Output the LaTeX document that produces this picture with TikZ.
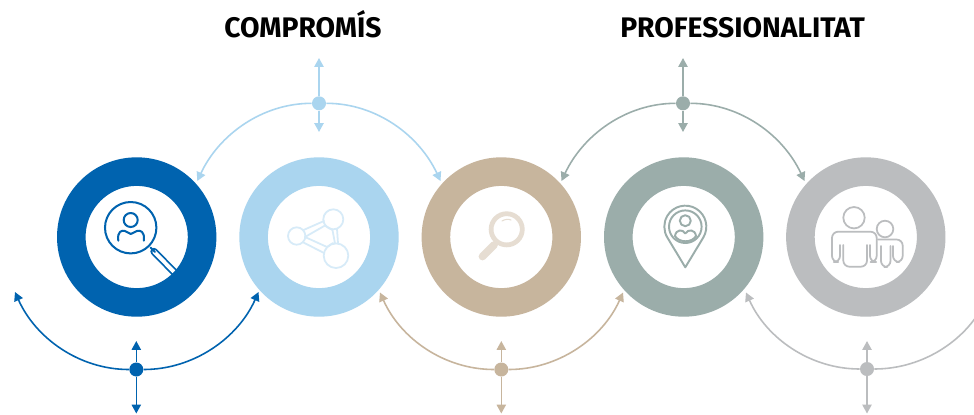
\documentclass[tikz,border=0pt]{standalone}
\usepackage{amsmath,amsthm,amssymb}
\usepackage{fontspec}
\setmainfont{Fira Sans}
\usepackage{tikz}
\usetikzlibrary{arrows.meta}
\definecolor{cblue}{HTML}{0063AF}
\definecolor{clight}{HTML}{AAD5EF}
\definecolor{ctan}{HTML}{C7B59D}
\definecolor{cgreen}{HTML}{9BADAA}
\definecolor{cgrey}{HTML}{BBBDBF}
\definecolor{clightpale}{HTML}{D7EBF8}
\definecolor{ctanpale}{HTML}{E6DDD2}
\tikzset{
ring/.style={shape=circle,draw=#1,line width=0.572cm,minimum size=2.616cm,inner sep=0pt},
hub/.style={shape=circle,fill=#1,inner sep=0pt,minimum size=0.28cm},
link/.style={draw,color=#1,line width=0.9pt,-{Triangle[width=5.2pt,length=5pt]}},
bow/.style={link=#1,looseness=0.93},
heading/.style={anchor=base,font=\bfseries\fontsize{16.1}{18}\selectfont,text=black},
icon/.style={draw=#1,line width=1pt,line cap=round,line join=round}
}
\begin{document}
\begin{tikzpicture}[x=0.02cm,y=-0.02cm]
\clip (0,0) rectangle (974,414);
\fill[white] (0,0) rectangle (974,414);
\node[heading] (titleA) at (303,37.3) {COMPROMÍS};
\node[heading] (titleB) at (742.5,37.3) {PROFESSIONALITAT};
% handle goes under the ring
\draw[cblue,line width=1pt,double=white,double distance=2.2pt,line cap=round] (154,251.5) -- (178,276);
\node[ring=cblue] (A) at (136.7,237) {};
\node[ring=clight] (B) at (319,237) {};
\node[ring=ctan] (C) at (501.3,237) {};
\node[ring=cgreen] (D) at (683.7,237) {};
\node[ring=cgrey] (E) at (865.8,237) {};
% icon A
\draw[icon=cblue,line width=1.15pt] (130.7,227.7) circle[radius=25.7];
\draw[icon=cblue,line width=1.15pt] (130.7,220) circle[radius=7];
\draw[icon=cblue,line width=1.15pt] (118.3,240.7) .. controls (117,231) and (122,230) .. (125,231) .. controls (128,231.5) and (129,234) .. (130.7,234) .. controls (132.5,234) and (134,231.5) .. (137,231) .. controls (140,230) and (145,231) .. (143.8,240.7);
\draw[icon=cblue,line width=1.15pt] (150.5,247.5) -- (155,252);
% icon B
\draw[icon=clightpale] (296.7,236) circle[radius=8.7];
\draw[icon=clightpale] (333.3,219.3) circle[radius=10];
\draw[icon=clightpale] (336,255.7) circle[radius=12.3];
\draw[icon=clightpale] (303.5,230) -- (324,221);
\draw[icon=clightpale] (303.5,242.5) -- (324,253);
\draw[icon=clightpale] (305,237) -- (325,225.5) -- (332.5,230) -- (335,243.5);
\draw[icon=clightpale] (305,237) -- (327,247) -- (333,243);
\draw[icon=clightpale] (337,229) -- (338,243);
% icon C
\draw[ctanpale,line width=2.7pt] (506.7,229.3) circle[radius=15.6];
\draw[ctanpale,line width=4.4pt,line cap=round] (494,245) -- (482.5,256.5);
\draw[ctanpale,line width=2.2pt] (497,241) -- (492,247);
\draw[ctanpale,line width=0.6pt,line cap=round] (502,221) .. controls (505,219) and (509,219) .. (511,220);
% icon D
\draw[icon=cgreen,line width=1.1pt] (685.3,267.3) -- (703.3,237.5) arc[start angle=31.1,end angle=-211.1,radius=21] -- cycle;
\draw[icon=cgreen,line width=1.1pt] (685.3,226.7) circle[radius=16.3];
\draw[icon=cgreen,line width=1.1pt] (685.3,220.7) circle[radius=5.5];
\draw[icon=cgreen,line width=1.1pt] (675,236) .. controls (676,229) and (683,229) .. (685.3,233.5) .. controls (688,229) and (695,229) .. (696,236) .. controls (692,243) and (679,243) .. (675,236) -- cycle;
% icon E
\draw[icon=cgrey] (854,217.7) circle[radius=10.7];
\draw[icon=cgrey] (885,229) circle[radius=8.3];
\draw[icon=cgrey,rounded corners=3.5pt] (843.3,245) -- (843.3,266.7) -- (867,266.7) -- (867,245);
\draw[icon=cgrey,rounded corners=3.5pt] (840,245) -- (840,262) -- (832,262) -- (832,231.7) -- (876.7,231.7) -- (876.7,262) -- (870,262) -- (870,245);
\draw[icon=cgrey,rounded corners=3.5pt] (881,246) -- (881,267) -- (890.5,267) -- (890.5,246);
\draw[icon=cgrey,rounded corners=3.5pt] (893,246) -- (893,262) -- (902.7,262) -- (902.7,239.5) -- (878,239.5);
% hubs
\node[hub=clight] (hubB) at (319,103.3) {};
\node[hub=cgreen] (hubD) at (683,103.3) {};
\node[hub=cblue] (hubA) at (136.3,369.5) {};
\node[hub=ctan] (hubC) at (501.3,369.5) {};
\node[hub=cgrey] (hubE) at (867,369) {};
% arrow ends
\coordinate (upB) at (319,58);
\coordinate (downB) at (319,132);
\coordinate (leftB) at (197.3,181);
\coordinate (rightB) at (440.5,181);
\coordinate (upD) at (683,58);
\coordinate (downD) at (683,132);
\coordinate (leftD) at (561.5,181);
\coordinate (rightD) at (804.5,181);
\coordinate (upA) at (136.3,341);
\coordinate (downA) at (136.3,413.5);
\coordinate (leftA) at (15,292);
\coordinate (rightA) at (258.5,292);
\coordinate (upC) at (501.3,341);
\coordinate (downC) at (501.3,413.5);
\coordinate (leftC) at (380,292.5);
\coordinate (rightC) at (623,292.5);
\coordinate (upE) at (867,341);
\coordinate (downE) at (867,413.5);
\coordinate (leftE) at (746,292.5);
\coordinate (rightE) at (989,292.5);
\path [link=clight] (hubB) edge (upB) edge (downB);
\path [bow=clight] (hubB) edge[out=180,in=65] (leftB) edge[out=0,in=115] (rightB);
\path [link=cgreen] (hubD) edge (upD) edge (downD);
\path [bow=cgreen] (hubD) edge[out=180,in=65] (leftD) edge[out=0,in=115] (rightD);
\path [link=cblue] (hubA) edge (upA) edge (downA);
\path [bow=cblue] (hubA) edge[out=180,in=-66] (leftA) edge[out=0,in=-114] (rightA);
\path [link=ctan] (hubC) edge (upC) edge (downC);
\path [bow=ctan] (hubC) edge[out=180,in=-66] (leftC) edge[out=0,in=-114] (rightC);
\path [link=cgrey] (hubE) edge (upE) edge (downE);
\path [bow=cgrey] (hubE) edge[out=180,in=-66] (leftE) edge[out=0,in=-114] (rightE);
\end{tikzpicture}
\end{document}
